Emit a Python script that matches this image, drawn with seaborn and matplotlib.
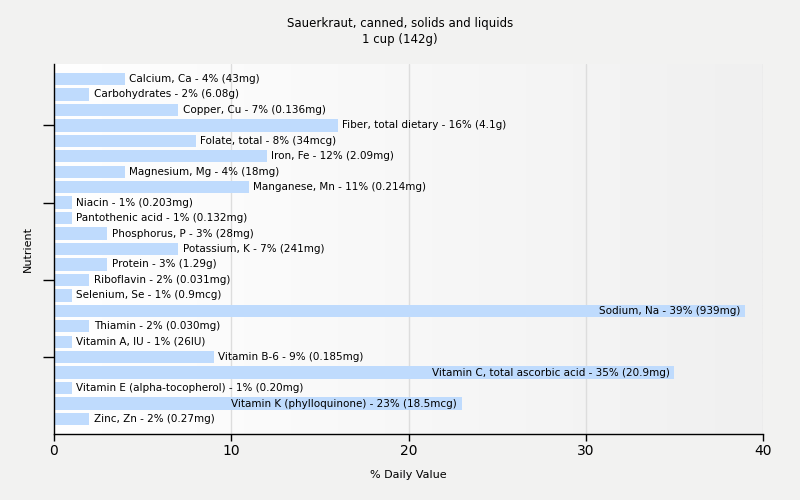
import numpy as np
import pandas as pd
from matplotlib import pyplot as plt
import seaborn as sns

nutrients = ["Calcium, Ca", "Carbohydrates", "Copper, Cu", "Fiber, total dietary",
             "Folate, total", "Iron, Fe", "Magnesium, Mg", "Manganese, Mn", "Niacin",
             "Pantothenic acid", "Phosphorus, P", "Potassium, K", "Protein", "Riboflavin",
             "Selenium, Se", "Sodium, Na", "Thiamin", "Vitamin A, IU", "Vitamin B-6",
             "Vitamin C, total ascorbic acid", "Vitamin E (alpha-tocopherol)",
             "Vitamin K (phylloquinone)", "Zinc, Zn"]
daily_pct = [4, 2, 7, 16, 8, 12, 4, 11, 1, 1, 3, 7, 3, 2, 1, 39, 2, 1, 9, 35, 1, 23, 2]
amounts = ["43mg", "6.08g", "0.136mg", "4.1g", "34mcg", "2.09mg", "18mg", "0.214mg",
           "0.203mg", "0.132mg", "28mg", "241mg", "1.29g", "0.031mg", "0.9mcg", "939mg",
           "0.030mg", "26IU", "0.185mg", "20.9mg", "0.20mg", "18.5mcg", "0.27mg"]


def main():
    df = pd.DataFrame({"Nutrient": nutrients, "pct": daily_pct, "amount": amounts})

    sns.set_style("white")
    plt.rcParams["font.family"] = ["DejaVu Sans"]
    plt.rcParams["text.color"] = "black"
    plt.rcParams["axes.labelcolor"] = "black"
    plt.rcParams["xtick.color"] = "black"
    plt.rcParams["ytick.color"] = "black"

    fig = plt.figure(figsize=(8, 5), dpi=100, facecolor="#f2f2f1")
    ax = fig.add_axes([54 / 800, 1 - 434 / 500, 709 / 800, 370 / 500])

    # soft horizontal gradient in the plot area
    grad = np.linspace(0, 1, 256).reshape(1, -1)
    ax.imshow(grad, extent=[0, 40, 22.97, -0.97], aspect="auto",
              cmap=sns.blend_palette(["#ffffff", "#f0f0f0"], as_cmap=True), zorder=0)

    sns.barplot(data=df, x="pct", y="Nutrient", orient="h", color="#bfdbfd",
                width=0.8, saturation=1, linewidth=0, ax=ax, zorder=2)

    for i, row in df.iterrows():
        label = f"{row['Nutrient']} - {row['pct']}% ({row['amount']})"
        if row["pct"] > 20:
            ax.text(row["pct"] - 0.25, i, label, ha="right", va="center", fontsize=7.5, zorder=3)
        else:
            ax.text(row["pct"] + 0.25, i, label, ha="left", va="center", fontsize=7.5, zorder=3)

    ax.set_xlim(0, 40)
    ax.set_ylim(22.97, -0.97)
    ax.set_xticks([0, 10, 20, 30, 40])
    ax.set_yticks([3, 8, 13, 18])
    ax.set_yticklabels([])
    ax.tick_params(axis="y", left=True, length=8, width=1)
    ax.tick_params(axis="x", bottom=True, length=5, width=1, labelsize=10, pad=2)
    for x in [10, 20, 30, 40]:
        ax.axvline(x, color="#dddddd", lw=1, zorder=1)

    for s in ["top", "right"]:
        ax.spines[s].set_visible(False)
    for s in ["left", "bottom"]:
        ax.spines[s].set_color("black")
        ax.spines[s].set_linewidth(1)

    ax.set_xlabel("% Daily Value", fontsize=8, labelpad=9)
    ax.set_ylabel("Nutrient", fontsize=8, labelpad=4)
    fig.text(0.5, 1 - 24 / 500, "Sauerkraut, canned, solids and liquids", ha="center", va="center", fontsize=8.5)
    fig.text(0.5, 1 - 40 / 500, "1 cup (142g)", ha="center", va="center", fontsize=8.5)

    fig.savefig("out.png", dpi=100, facecolor=fig.get_facecolor())


if __name__ == "__main__":
    main()
